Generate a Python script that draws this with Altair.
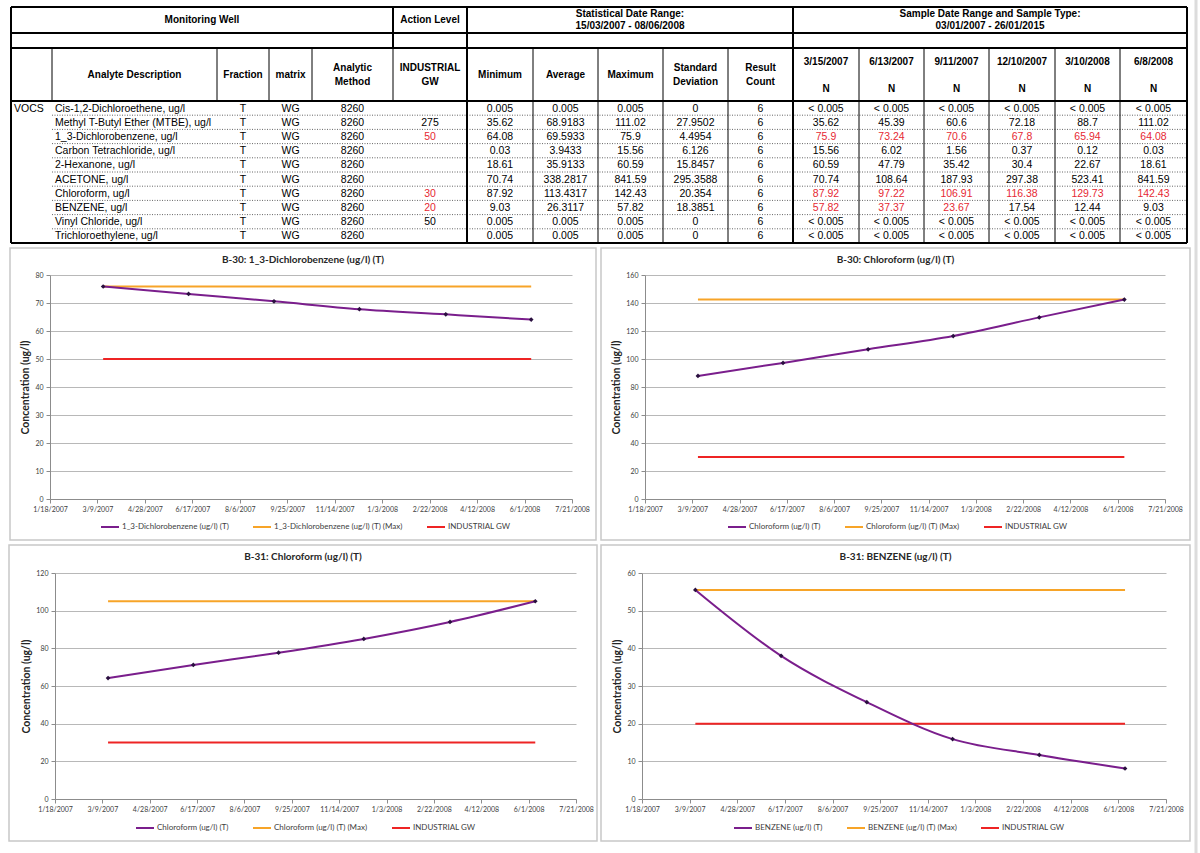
import altair as alt
import pandas as pd

# ---------------- Monitoring well results table ----------------
sample_dates = ["3/15/2007", "6/13/2007", "9/11/2007", "12/10/2007", "3/10/2008", "6/8/2008"]
sample_types = ["N", "N", "N", "N", "N", "N"]
stat_date_range = "15/03/2007 - 08/06/2008"
sample_date_range = "03/01/2007 - 26/01/2015"
group_label = "VOCS"

analytes = [
    "Cis-1,2-Dichloroethene, ug/l",
    "Methyl T-Butyl Ether (MTBE), ug/l",
    "1_3-Dichlorobenzene, ug/l",
    "Carbon Tetrachloride, ug/l",
    "2-Hexanone, ug/l",
    "ACETONE, ug/l",
    "Chloroform, ug/l",
    "BENZENE, ug/l",
    "Vinyl Chloride, ug/l",
    "Trichloroethylene, ug/l",
]
fractions = ["T", "T", "T", "T", "T", "T", "T", "T", "T", "T"]
matrices = ["WG", "WG", "WG", "WG", "WG", "WG", "WG", "WG", "WG", "WG"]
methods = ["8260", "8260", "8260", "8260", "8260", "8260", "8260", "8260", "8260", "8260"]
industrial_gw = [None, 275, 50, None, None, None, 30, 20, 50, None]
minimum = [0.005, 35.62, 64.08, 0.03, 18.61, 70.74, 87.92, 9.03, 0.005, 0.005]
average = [0.005, 68.9183, 69.5933, 3.9433, 35.9133, 338.2817, 113.4317, 26.3117, 0.005, 0.005]
maximum = [0.005, 111.02, 75.9, 15.56, 60.59, 841.59, 142.43, 57.82, 0.005, 0.005]
std_dev = [0, 27.9502, 4.4954, 6.126, 15.8457, 295.3588, 20.354, 18.3851, 0, 0]
result_count = [6, 6, 6, 6, 6, 6, 6, 6, 6, 6]

ND = "< 0.005"
results = [
    [ND, ND, ND, ND, ND, ND],
    [35.62, 45.39, 60.6, 72.18, 88.7, 111.02],
    [75.9, 73.24, 70.6, 67.8, 65.94, 64.08],
    [15.56, 6.02, 1.56, 0.37, 0.12, 0.03],
    [60.59, 47.79, 35.42, 30.4, 22.67, 18.61],
    [70.74, 108.64, 187.93, 297.38, 523.41, 841.59],
    [87.92, 97.22, 106.91, 116.38, 129.73, 142.43],
    [57.82, 37.37, 23.67, 17.54, 12.44, 9.03],
    [ND, ND, ND, ND, ND, ND],
    [ND, ND, ND, ND, ND, ND],
]

# ---------------- B-31 trend series ----------------
b31_chloroform = [64.2, 71.2, 77.7, 85.0, 94.0, 105.0]
b31_benzene = [55.5, 38.0, 25.7, 15.9, 11.7, 8.1]

# axis ticks
x_ticks = ["1/18/2007", "3/9/2007", "4/28/2007", "6/17/2007", "8/6/2007", "9/25/2007",
           "11/14/2007", "1/3/2008", "2/22/2008", "4/12/2008", "6/1/2008", "7/21/2008"]
y_ticks_b30_dcb = [0, 10, 20, 30, 40, 50, 60, 70, 80]
y_ticks_b30_chloroform = [0, 20, 40, 60, 80, 100, 120, 140, 160]
y_ticks_b31_chloroform = [0, 20, 40, 60, 80, 100, 120]
y_ticks_b31_benzene = [0, 10, 20, 30, 40, 50, 60]

# ---------------- styling ----------------
W, H = 1200, 853
TABLE_FONT = "Liberation Sans"
CHART_FONT = "Lato"
PURPLE = "#7A1E8C"
ORANGE = "#F7A428"
RED = "#EE2424"
MARKER = "#2A0F3F"
GRID = "#B8B8B8"
AXIS = "#8C8C8C"
TEXT_DARK = "#404040"
TABLE_RED = "#E62833"

# table layout (pixels)
col_edges = [11, 52, 217, 269, 312, 393, 467, 533, 598, 663, 728, 793, 859, 924, 989, 1055, 1120, 1187]
table_top, band1, band2, header_bottom, table_bottom = 7, 33, 48, 101, 243
row_h = (table_bottom - header_bottom) / len(analytes)


def col_mid(i):
    return (col_edges[i] + col_edges[i + 1]) / 2


def fmt(v):
    return v if isinstance(v, str) else str(v)


def exceeds(v, limit):
    return limit is not None and not isinstance(v, str) and v > limit


# ---- header text ----
head = [
    ("Monitoring Well", (col_edges[0] + col_edges[5]) / 2, 20),
    ("Action Level", col_mid(5), 20),
    ("Statistical Date Range:", (col_edges[6] + col_edges[11]) / 2, 14),
    (stat_date_range, (col_edges[6] + col_edges[11]) / 2, 26),
    ("Sample Date Range and Sample Type:", (col_edges[11] + col_edges[17]) / 2, 14),
    (sample_date_range, (col_edges[11] + col_edges[17]) / 2, 26),
]
col_heads = [[], ["Analyte Description"], ["Fraction"], ["matrix"], ["Analytic", "Method"],
             ["INDUSTRIAL", "GW"], ["Minimum"], ["Average"], ["Maximum"],
             ["Standard", "Deviation"], ["Result", "Count"]]
for i, lines in enumerate(col_heads):
    if len(lines) == 1:
        head.append((lines[0], col_mid(i), 75))
    elif len(lines) == 2:
        head.append((lines[0], col_mid(i), 68))
        head.append((lines[1], col_mid(i), 82))
for j, (d, t) in enumerate(zip(sample_dates, sample_types)):
    head.append((d, col_mid(11 + j), 62))
    head.append((t, col_mid(11 + j), 89))
head_df = pd.DataFrame(head, columns=["text", "x", "y"])

# ---- body text ----
left_cells, center_cells = [], []
for r, name in enumerate(analytes):
    y = header_bottom + row_h * (r + 0.5) + 0.5
    if r == 0:
        left_cells.append((group_label, col_edges[0] + 3, y))
    left_cells.append((name, col_edges[1] + 3, y))
    gw = industrial_gw[r]
    hit = any(exceeds(v, gw) for v in results[r])
    row_vals = [fractions[r], matrices[r], methods[r]]
    for k, v in enumerate(row_vals):
        center_cells.append((v, col_mid(2 + k), y, "#000000"))
    center_cells.append(("" if gw is None else fmt(gw), col_mid(5), y, TABLE_RED if hit else "#000000"))
    for k, v in enumerate([minimum[r], average[r], maximum[r], std_dev[r], result_count[r]]):
        center_cells.append((fmt(v), col_mid(6 + k), y, "#000000"))
    for k, v in enumerate(results[r]):
        center_cells.append((fmt(v), col_mid(11 + k), y, TABLE_RED if exceeds(v, gw) else "#000000"))
left_df = pd.DataFrame(left_cells, columns=["text", "x", "y"])
center_df = pd.DataFrame(center_cells, columns=["text", "x", "y", "color"])

# ---- table grid lines ----
thick, thin, dotted = [], [], []
for y in [table_top, band1, band2, header_bottom, table_bottom]:
    thick.append((col_edges[0], y, col_edges[-1], y))
for x in [col_edges[0], col_edges[6], col_edges[11], col_edges[-1]]:
    thick.append((x, table_top, x, table_bottom))
thick.append((col_edges[5], table_top, col_edges[5], band2))
for x in col_edges[1:6]:
    thin.append((x, band2, x, header_bottom))
for x in col_edges[7:11] + col_edges[12:17]:
    thin.append((x, band2, x, table_bottom))
for k in range(1, len(analytes)):
    y = header_bottom + row_h * k
    dotted.append((col_edges[1], y, col_edges[-1], y))
seg_cols = ["x", "y", "x2", "y2"]


def seg_layer(rows, width, color, dash=None):
    kw = dict(strokeWidth=width, color=color)
    if dash:
        kw["strokeDash"] = dash
    return alt.Chart(pd.DataFrame(rows, columns=seg_cols)).mark_rule(**kw).encode(
        x=alt.X("x:Q", scale=None, axis=None),
        y=alt.Y("y:Q", scale=None, axis=None),
        x2="x2:Q",
        y2="y2:Q",
    )


def text_layer(df, align, size, weight="normal", colored=False):
    enc = dict(
        x=alt.X("x:Q", scale=None, axis=None),
        y=alt.Y("y:Q", scale=None, axis=None),
        text="text:N",
    )
    if colored:
        enc["color"] = alt.Color("color:N", scale=None)
    return alt.Chart(df).mark_text(
        align=align, baseline="middle", font=TABLE_FONT, fontSize=size,
        fontWeight=weight, color="#000000"
    ).encode(**enc)


table_layers = [
    seg_layer(dotted, 1, "#666666", [1, 1.5]),
    seg_layer(thin, 1, "#000000"),
    seg_layer(thick, 2, "#000000"),
    text_layer(head_df, "center", 10, "bold"),
    text_layer(left_df, "left", 10.5),
    text_layer(center_df, "center", 10.5, colored=True),
]

# ---------------- trend charts ----------------
def to_dt(s):
    m, d, y = (int(p) for p in s.split("/"))
    return alt.DateTime(year=y, month=m, date=d)


tick_dt = [to_dt(s) for s in x_ticks]

panel_specs = [
    dict(title="B-30: 1_3-Dichlorobenzene (ug/l) (T)", series="1_3-Dichlorobenzene (ug/l) (T)",
         values=results[2], gw=industrial_gw[2], y_ticks=y_ticks_b30_dcb,
         box=(10, 248, 596, 540), plot=(50, 275, 572, 499), legend=(100, 517)),
    dict(title="B-30: Chloroform (ug/l) (T)", series="Chloroform (ug/l) (T)",
         values=results[6], gw=industrial_gw[6], y_ticks=y_ticks_b30_chloroform,
         box=(601, 248, 1190, 540), plot=(645, 275, 1165, 499), legend=(727, 517)),
    dict(title="B-31: Chloroform (ug/l) (T)", series="Chloroform (ug/l) (T)",
         values=b31_chloroform, gw=industrial_gw[6], y_ticks=y_ticks_b31_chloroform,
         box=(9, 545, 597, 841), plot=(55, 573, 576, 799), legend=(135, 818)),
    dict(title="B-31: BENZENE (ug/l) (T)", series="BENZENE (ug/l) (T)",
         values=b31_benzene, gw=industrial_gw[7], y_ticks=y_ticks_b31_benzene,
         box=(601, 545, 1190, 841), plot=(642, 573, 1166, 799), legend=(733, 818)),
]


def trend_layers(spec):
    """Layers for one trend panel; each layer carries the same scale domain and pixel range."""
    x0, y0, x1, y1 = spec["plot"]
    name = spec["series"]
    max_name = name + " (Max)"
    peak = max(spec["values"])
    observed = pd.DataFrame({"date": sample_dates, "value": spec["values"], "series": name})
    guides = pd.DataFrame({
        "date": [sample_dates[0], sample_dates[-1], sample_dates[0], sample_dates[-1]],
        "value": [peak, peak, spec["gw"], spec["gw"]],
        "series": [max_name, max_name, "INDUSTRIAL GW", "INDUSTRIAL GW"],
    })
    x_scale = alt.Scale(domain=[tick_dt[0], tick_dt[-1]], range=[x0, x1])
    y_scale = alt.Scale(domain=[spec["y_ticks"][0], spec["y_ticks"][-1]], range=[y1, y0],
                        nice=False, zero=False)
    color_scale = alt.Scale(domain=[name, max_name, "INDUSTRIAL GW"], range=[PURPLE, ORANGE, RED])
    legend = alt.Legend(
        title=None, orient="none", legendX=spec["legend"][0], legendY=spec["legend"][1],
        direction="horizontal", symbolType="stroke", symbolStrokeWidth=2, symbolSize=324,
        labelFont=CHART_FONT, labelFontSize=8, labelColor=TEXT_DARK, labelOffset=2,
        columnPadding=20, padding=0,
    )
    x_axis = alt.Axis(
        values=tick_dt, format="%-m/%-d/%Y", orient="bottom", offset=y1 - H, grid=False,
        domainColor=AXIS, tickColor=AXIS, tickSize=4, labelFont=CHART_FONT, labelFontSize=7,
        labelColor=TEXT_DARK, labelPadding=2, labelOverlap=False, labelFlush=False, title=None,
    )
    y_axis = alt.Axis(
        values=spec["y_ticks"], orient="left", offset=-x0, grid=True, gridColor=GRID,
        gridWidth=1, domainColor=AXIS, tickColor=AXIS, tickSize=4, labelFont=CHART_FONT,
        labelFontSize=7, labelColor=TEXT_DARK, labelPadding=3, title="Concentration (ug/l)",
        titleFont=CHART_FONT, titleFontSize=10.5, titleFontWeight="bold", titleColor="#262626",
        titlePadding=4,
    )
    guide_lines = alt.Chart(guides).mark_line(strokeWidth=2).encode(
        x=alt.X("date:T", scale=x_scale, axis=None),
        y=alt.Y("value:Q", scale=y_scale, axis=None),
        color=alt.Color("series:N", scale=color_scale, legend=None),
        detail="series:N",
    )
    trend = alt.Chart(observed).mark_line(strokeWidth=2, interpolate="monotone").encode(
        x=alt.X("date:T", scale=x_scale, axis=x_axis),
        y=alt.Y("value:Q", scale=y_scale, axis=y_axis),
        color=alt.Color("series:N", scale=color_scale, legend=legend),
    )
    markers = alt.Chart(observed).mark_point(shape="diamond", filled=True, size=22,
                                             color=MARKER, opacity=1).encode(
        x=alt.X("date:T", scale=x_scale, axis=None),
        y=alt.Y("value:Q", scale=y_scale, axis=None),
    )
    return [guide_lines, trend, markers]


boxes = pd.DataFrame([s["box"] for s in panel_specs], columns=["x", "y", "x2", "y2"])
box_layer = alt.Chart(boxes).mark_rect(fillOpacity=0, stroke="#C8C8C8", strokeWidth=1.5).encode(
    x=alt.X("x:Q", scale=None, axis=None),
    y=alt.Y("y:Q", scale=None, axis=None),
    x2="x2:Q",
    y2="y2:Q",
)

titles = pd.DataFrame({
    "text": [s["title"] for s in panel_specs],
    "x": [(s["box"][0] + s["box"][2]) / 2 for s in panel_specs],
    "y": [s["box"][1] + 12 for s in panel_specs],
})
title_layer = alt.Chart(titles).mark_text(
    align="center", baseline="middle", font=CHART_FONT, fontSize=10, fontWeight="bold",
    color="#262626"
).encode(
    x=alt.X("x:Q", scale=None, axis=None),
    y=alt.Y("y:Q", scale=None, axis=None),
    text="text:N",
)

page_edge = alt.Chart(pd.DataFrame({"x": [1196], "y": [0], "y2": [H]})).mark_rule(
    color="#DCDCDC", strokeWidth=3
).encode(
    x=alt.X("x:Q", scale=None, axis=None),
    y=alt.Y("y:Q", scale=None, axis=None),
    y2="y2:Q",
)

panel_layers = []
for s in panel_specs:
    panel_layers.extend(trend_layers(s))

chart = alt.layer(
    box_layer, page_edge, *table_layers, *panel_layers, title_layer
).resolve_scale(
    x="independent", y="independent", color="independent"
).resolve_axis(
    x="independent", y="independent"
).resolve_legend(
    color="independent"
).properties(
    width=W, height=H, padding=0, background="white",
    autosize=alt.AutoSizeParams(type="none"),
).configure_view(strokeWidth=0)

chart.save("out.html", embed_options={"renderer": "svg", "actions": False})
